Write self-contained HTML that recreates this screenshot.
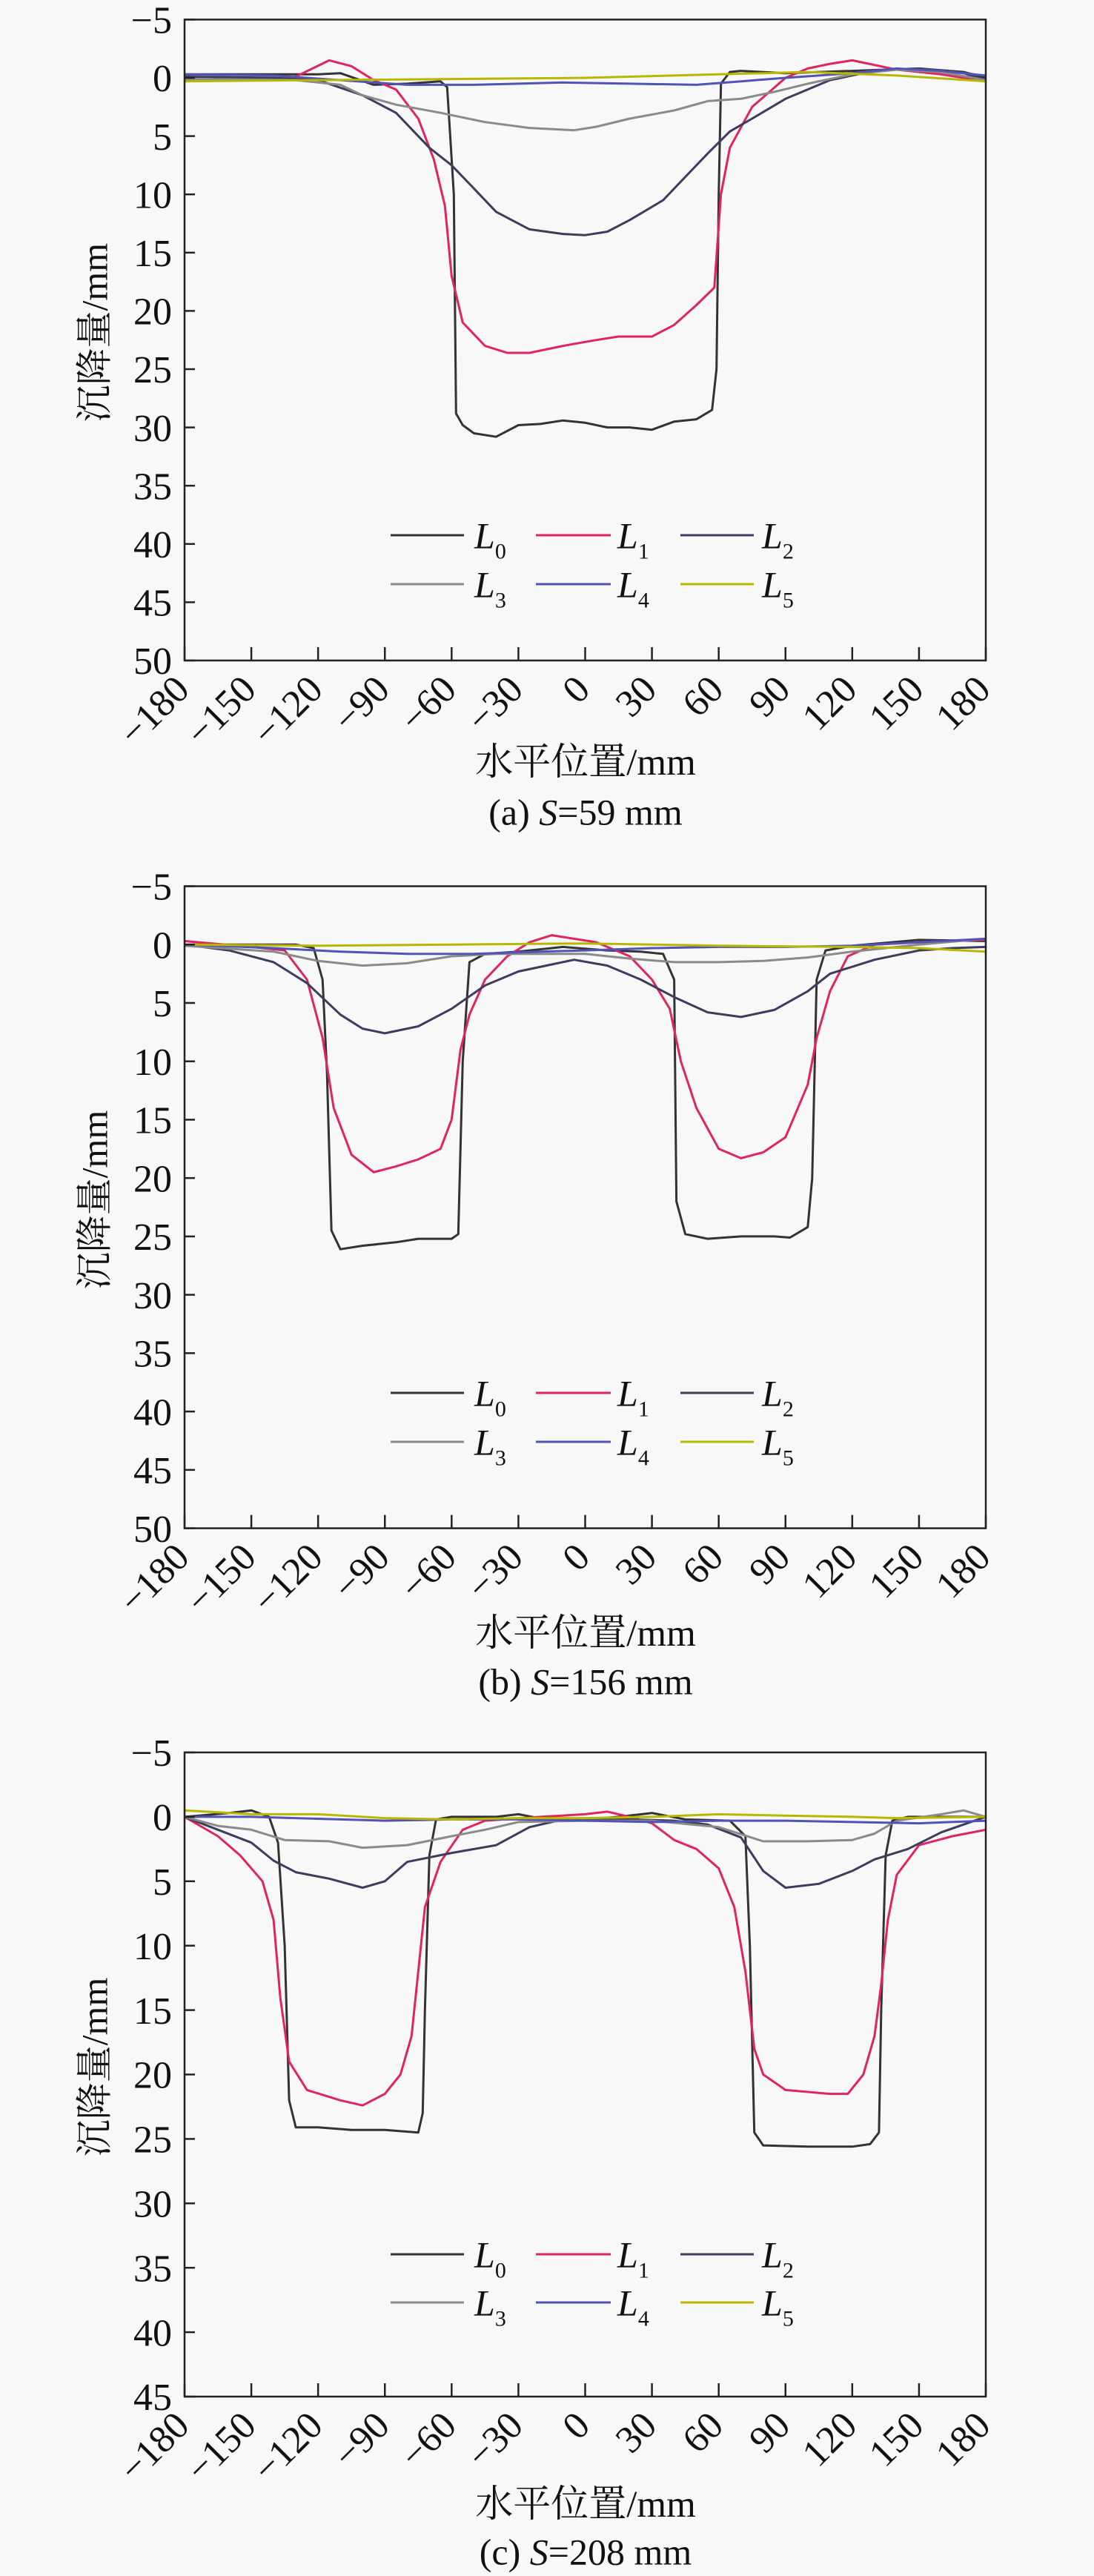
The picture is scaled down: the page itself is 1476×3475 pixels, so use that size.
<!DOCTYPE html>
<html><head><meta charset="utf-8"><style>
html,body{margin:0;padding:0;background:#f8f8f8}
svg{display:block}
text{font-family:"Liberation Serif","Noto Serif CJK SC",serif;fill:#111}
</style></head><body>
<svg id="fig" width="1476" height="3475" viewBox="0 0 1476 3475" xmlns="http://www.w3.org/2000/svg">
<rect width="1476" height="3475" fill="#f8f8f8"/>
</svg>
<script>
// x tick labels shared
const xTicks = [-180,-150,-120,-90,-60,-30,0,30,60,90,120,150,180];
const seriesNames = ["L0","L1","L2","L3","L4","L5"];
const seriesColors = ["#333333","#e0245e","#3c3c5c","#8a8a8a","#5252b8","#b8b800"];

// Chart (a) S=59 mm
const aX0 = [-180,-140,-120,-110,-95,-80,-65,-62,-59,-58,-55,-50,-40,-30,-20,-10,0,10,20,30,40,50,57,59,60,61,65,70,90,120,150,170,180];
const aY0 = [-0.3,-0.3,-0.3,-0.4,0.6,0.5,0.3,0.8,10,28.8,29.8,30.5,30.8,29.8,29.7,29.4,29.6,30,30,30.2,29.5,29.3,28.5,25,10,0.5,-0.5,-0.6,-0.4,-0.6,-0.8,-0.5,0];
const aX1 = [-180,-140,-130,-115,-105,-95,-85,-75,-68,-63,-60,-55,-45,-35,-25,-10,5,15,30,40,50,58,61,65,75,90,100,110,120,130,140,160,180];
const aY1 = [0.2,0.2,-0.1,-1.5,-1.0,0.2,1.0,3.5,7,11,17,21,23,23.6,23.6,23,22.5,22.2,22.2,21.2,19.5,18,10,6,2.5,0,-0.8,-1.2,-1.5,-1.1,-0.7,-0.3,0.3];
const aX2 = [-180,-140,-120,-100,-85,-70,-60,-50,-40,-25,-10,0,10,20,35,45,55,65,75,90,110,130,150,170,180];
const aY2 = [-0.1,0,0.2,1.5,3,6,7.5,9.5,11.5,13,13.4,13.5,13.2,12.2,10.5,8.5,6.5,4.6,3.5,1.8,0.2,-0.6,-0.8,-0.4,0.2];
const aX3 = [-180,-130,-110,-100,-85,-65,-45,-25,-5,5,20,40,55,70,85,100,120,140,160,180];
const aY3 = [0.1,0.2,0.6,1.5,2.3,3.0,3.8,4.3,4.5,4.2,3.5,2.8,2.0,1.8,1.2,0.5,-0.3,-0.7,-0.5,0.2];
const aX4 = [-180,-140,-110,-95,-80,-50,-30,-10,20,50,70,90,120,140,160,180];
const aY4 = [-0.3,-0.2,0.2,0.4,0.6,0.6,0.5,0.4,0.5,0.6,0.3,0,-0.4,-0.8,-0.6,-0.2];
const aX5 = [-180,-120,-60,0,60,100,140,180];
const aY5 = [0.3,0.2,0.1,0,-0.3,-0.5,-0.2,0.3];
const aYTicks = [-5,0,5,10,15,20,25,30,35,40,45,50];

// Chart (b) S=156 mm
const bX0 = [-180,-130,-122,-118,-116,-114,-110,-100,-85,-75,-60,-57,-55,-52,-45,-30,-10,10,25,35,40,41,45,55,70,85,92,100,102,104,108,120,150,180];
const bY0 = [0,0,0.3,3,11,24.5,26.1,25.8,25.5,25.2,25.2,24.8,10,1.5,0.8,0.6,0.2,0.5,0.6,0.8,3,22,24.8,25.2,25,25,25.1,24.2,20,3,0.5,0.1,-0.4,-0.3];
const bX1 = [-180,-150,-135,-125,-118,-113,-105,-95,-85,-75,-65,-60,-56,-52,-45,-35,-25,-15,-5,5,20,30,38,43,50,60,70,80,90,100,104,110,118,130,150,180];
const bY1 = [-0.3,0.2,0.5,3,8,14,18,19.5,19,18.4,17.5,15,9,6,3,1,-0.2,-0.8,-0.5,-0.2,1,3,5.5,10,14,17.5,18.3,17.8,16.5,12,8,4,1,0,-0.2,-0.4];
const bX2 = [-180,-160,-140,-125,-110,-100,-90,-75,-60,-45,-30,-15,-5,10,25,40,55,70,85,100,110,130,150,165,180];
const bY2 = [0,0.5,1.5,3.3,6,7.2,7.6,7,5.5,3.5,2.3,1.7,1.3,1.8,3,4.5,5.8,6.2,5.6,4,2.5,1.3,0.5,0.3,0.2];
const bX3 = [-180,-140,-120,-100,-80,-60,-40,-20,0,20,40,60,80,100,120,150,180];
const bY3 = [0.1,0.6,1.4,1.8,1.6,1.0,0.8,0.8,0.8,1.2,1.5,1.5,1.4,1.1,0.6,0,-0.5];
const bX4 = [-180,-140,-110,-80,-50,-20,0,30,60,90,120,150,180];
const bY4 = [0,0.3,0.6,0.8,0.8,0.6,0.5,0.3,0.2,0.2,0.1,-0.2,-0.5];
const bX5 = [-180,-120,-60,0,60,120,150,180];
const bY5 = [0,0.1,0,-0.1,0.1,0.2,0.3,0.6];
const bYTicks = [-5,0,5,10,15,20,25,30,35,40,45,50];

// Chart (c) S=208 mm
const cX0 = [-180,-160,-150,-142,-138,-135,-133,-130,-120,-105,-90,-75,-73,-72,-70,-67,-60,-40,-30,-15,0,15,30,45,65,72,74,76,80,100,120,128,132,133,135,138,145,180];
const cY0 = [0,-0.3,-0.5,0,2,10,22,24.1,24.1,24.3,24.3,24.5,23,15,3,0.2,0,0,-0.2,0.3,0.2,0,-0.3,0.2,0.3,1.5,10,24.5,25.5,25.6,25.6,25.4,24.5,15,3,0.3,0,0];
const cX1 = [-180,-165,-155,-145,-140,-137,-133,-125,-110,-100,-90,-83,-78,-75,-72,-65,-55,-45,-20,0,10,20,30,40,50,60,67,72,76,80,90,110,118,125,130,133,136,140,150,165,180];
const cY1 = [0,1.5,3,5,8,14,19,21.2,22,22.4,21.5,20,17,12,7,3.5,1,0.3,0,-0.2,-0.4,0,0.5,1.8,2.5,4,7,12,18,20,21.2,21.5,21.5,20,17,13,8,4.5,2.2,1.5,1];
const cX2 = [-180,-165,-150,-140,-130,-115,-100,-90,-80,-60,-40,-25,-10,0,20,40,55,70,80,90,105,120,130,145,160,175,180];
const cY2 = [0,1,2,3.4,4.3,4.8,5.5,5,3.5,2.8,2.2,0.8,0.2,0.2,0.2,0.3,0.6,1.6,4.2,5.5,5.2,4.2,3.3,2.5,1.2,0.3,0];
const cX3 = [-180,-165,-150,-135,-115,-100,-80,-60,-45,-30,0,30,60,80,100,120,130,140,160,170,180];
const cY3 = [0,0.7,1.0,1.8,1.9,2.4,2.2,1.5,1.0,0.4,0.3,0.3,0.8,1.9,1.9,1.8,1.3,0.3,-0.2,-0.5,0];
const cX4 = [-180,-150,-110,-90,-60,-30,0,30,60,90,120,150,180];
const cY4 = [0,0,0.2,0.3,0.2,0.2,0.3,0.4,0.3,0.3,0.4,0.5,0.3];
const cX5 = [-180,-150,-120,-90,-60,-30,0,30,60,90,120,140,180];
const cY5 = [-0.5,-0.2,-0.2,0.1,0.2,0.1,0.1,0,-0.2,-0.1,0,0.1,0];
const cYTicks = [-5,0,5,10,15,20,25,30,35,40,45];

const NS = "http://www.w3.org/2000/svg";
const svg = document.getElementById("fig");
function mk(tag, attrs, parent){
  const e = document.createElementNS(NS, tag);
  for (const k in attrs) e.setAttribute(k, attrs[k]);
  (parent||svg).appendChild(e);
  return e;
}

function drawChart(id, caption, top, bottom, yMin, yMax, yTicks, xs, ys, xTitleY, capY, legY1, legY2){
  const L = 249, R = 1330;
  const sx = v => L + (v + 180) / 360 * (R - L);
  const sy = v => top + (v - yMin) / (yMax - yMin) * (bottom - top);
  const g = mk("g", {});
  
  
  const clip = mk("clipPath", {id:"clip-"+id}, g);
  mk("rect", {x:L, y:top, width:R-L, height:bottom-top}, clip);
  for (let s = 0; s < 6; s++){
    const d = xs[s].map((x,i)=> (i?"L":"M") + sx(x).toFixed(1) + " " + sy(ys[s][i]).toFixed(1)).join(" ");
    const p = mk("path", {d:d, fill:"none", stroke:seriesColors[s], "stroke-width":3, "stroke-linejoin":"round", "clip-path":"url(#clip-"+id+")"}, g);
    
    
  }
  const fr = mk("rect", {x:L, y:top, width:R-L, height:bottom-top, fill:"none", stroke:"#222", "stroke-width":2.5}, g);
  
  
  yTicks.forEach(v => {
    const y = sy(v);
    mk("line", {x1:L, x2:L+14, y1:y, y2:y, stroke:"#222", "stroke-width":2.5}, g);
    const t = mk("text", {x:232, y:y, "text-anchor":"end", dy:"0.35em", "font-size":52}, g);
    t.textContent = v < 0 ? "\u2212" + Math.abs(v) : String(v);
    
    
  });
  xTicks.forEach(v => {
    const x = sx(v);
    mk("line", {x1:x, x2:x, y1:bottom, y2:bottom-18, stroke:"#222", "stroke-width":2.5}, g);
    const ax = x + 9, ay = bottom + 42;
    const t = mk("text", {x:ax, y:ay, "text-anchor":"end", "font-size":52, transform:"rotate(-45 "+ax+" "+ay+")"}, g);
    t.textContent = v < 0 ? "\u2212" + Math.abs(v) : String(v);
    
    
  });
  const cy = (top + bottom) / 2 - 10;
  const yt = mk("text", {x:127, y:cy, "text-anchor":"middle", dy:"0.35em", "font-size":50, transform:"rotate(-90 127 "+cy+")"}, g);
  yt.textContent = "沉降量/mm";
  
  
  const xt = mk("text", {x:790, y:xTitleY, "text-anchor":"middle", dy:"0.35em", "font-size":51}, g);
  xt.textContent = "水平位置/mm";
  
  
  const cp = mk("text", {x:790, y:capY, "text-anchor":"middle", dy:"0.35em", "font-size":50}, g);
  cp.innerHTML = caption;
  
  
  const cols = [[527,626,640],[723,824,833],[918,1017,1028]];
  for (let s = 0; s < 6; s++){
    const c = cols[s % 3], y = s < 3 ? legY1 : legY2;
    const lg = mk("g", {}, g);
    
    
    mk("line", {x1:c[0], x2:c[1], y1:y, y2:y, stroke:seriesColors[s], "stroke-width":3}, lg);
    const t = mk("text", {x:c[2], y:y, dy:"0.35em", "font-size":50, "font-style":"italic"}, lg);
    t.innerHTML = "L<tspan font-size='30' font-style='normal' dy='14'>" + s + "</tspan>";
  }
}

drawChart("a", "(a) <tspan font-style='italic'>S</tspan>=59 mm", 26.4, 891, -5, 50, aYTicks,
  [aX0,aX1,aX2,aX3,aX4,aX5], [aY0,aY1,aY2,aY3,aY4,aY5], 1027, 1095, 722, 788);
drawChart("b", "(b) <tspan font-style='italic'>S</tspan>=156 mm", 1195.5, 2061.6, -5, 50, bYTicks,
  [bX0,bX1,bX2,bX3,bX4,bX5], [bY0,bY1,bY2,bY3,bY4,bY5], 2202, 2268, 1879, 1945);
drawChart("c", "(c) <tspan font-style='italic'>S</tspan>=208 mm", 2364, 3233, -5, 45, cYTicks,
  [cX0,cX1,cX2,cX3,cX4,cX5], [cY0,cY1,cY2,cY3,cY4,cY5], 3377, 3442, 3041, 3106);
</script>
</body></html>
